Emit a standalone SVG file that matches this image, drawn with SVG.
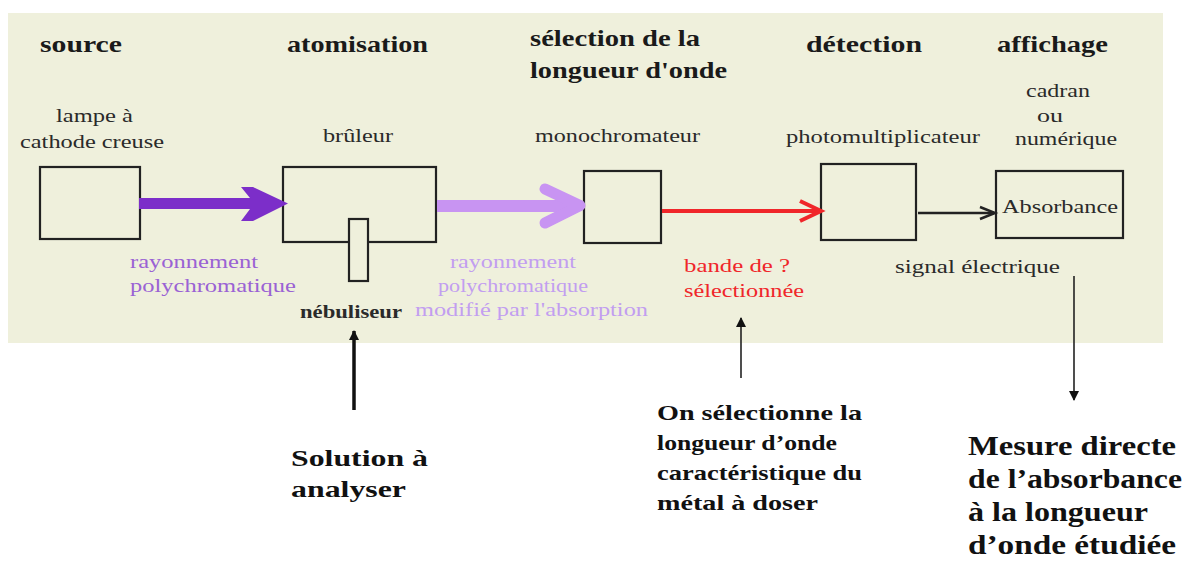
<svg xmlns="http://www.w3.org/2000/svg" width="1194" height="569" viewBox="0 0 1194 569">
<style>
text{font-family:"Liberation Serif","Times New Roman",Times,serif}
.h{font-weight:bold;font-size:24px;fill:#1a1a1a}
.t{font-size:19px;fill:#2a2a2a}
.b{font-weight:bold;fill:#111}
.box{fill:none;stroke:#222;stroke-width:2.2}
.p1{fill:#9a62d4}
.p2{fill:#c29ef0}
.rd{fill:#f0262a}
</style>
<defs>
<marker id="ah" viewBox="0 0 10 10" refX="9" refY="5" markerWidth="10" markerHeight="10" markerUnits="userSpaceOnUse" orient="auto"><path d="M0,0 L10,5 L0,10 Z" fill="#111"/></marker>
</defs>
<rect x="8" y="13" width="1155" height="330" fill="#eff0dc"/>

<g id="headings">
<text class="h" x="40" y="52" textLength="82" lengthAdjust="spacingAndGlyphs">source</text>
<text class="h" x="287" y="52" textLength="141" lengthAdjust="spacingAndGlyphs">atomisation</text>
<text class="h" x="530" y="46" textLength="170" lengthAdjust="spacingAndGlyphs">sélection de la</text>
<text class="h" x="530" y="78" textLength="197" lengthAdjust="spacingAndGlyphs">longueur d'onde</text>
<text class="h" x="806" y="52" textLength="116" lengthAdjust="spacingAndGlyphs">détection</text>
<text class="h" x="997" y="52" textLength="111" lengthAdjust="spacingAndGlyphs">affichage</text>
</g>

<g id="source">
<text class="t" x="56" y="122" textLength="77" lengthAdjust="spacingAndGlyphs">lampe à</text>
<text class="t" x="20" y="148" textLength="144" lengthAdjust="spacingAndGlyphs">cathode creuse</text>
<rect class="box" x="40" y="167" width="100" height="72"/>
</g>

<g id="bruleur">
<text class="t" x="323" y="142" textLength="70" lengthAdjust="spacingAndGlyphs">brûleur</text>
<rect class="box" x="283" y="167" width="153" height="75"/>
<rect x="349" y="219" width="19" height="62" fill="#eff0dc" stroke="#222" stroke-width="2.2"/>
<text class="t" x="300" y="318" textLength="102" lengthAdjust="spacingAndGlyphs" font-weight="bold">nébuliseur</text>
</g>

<g id="monochromateur">
<text class="t" x="535" y="142" textLength="165" lengthAdjust="spacingAndGlyphs">monochromateur</text>
<rect class="box" x="584" y="171" width="77" height="72"/>
</g>

<g id="detecteur">
<text class="t" x="786" y="143" textLength="194" lengthAdjust="spacingAndGlyphs">photomultiplicateur</text>
<rect class="box" x="821" y="164" width="95" height="76"/>
</g>

<g id="affichage">
<text class="t" x="1026" y="97" textLength="64" lengthAdjust="spacingAndGlyphs">cadran</text>
<text class="t" x="1037" y="122" textLength="26" lengthAdjust="spacingAndGlyphs">ou</text>
<text class="t" x="1015" y="145" textLength="102" lengthAdjust="spacingAndGlyphs">numérique</text>
<rect class="box" x="996" y="171" width="127" height="67"/>
<text class="t" x="1002" y="213" textLength="116" lengthAdjust="spacingAndGlyphs">Absorbance</text>
</g>

<g id="connectors">
<polygon points="139,198 250,198 241,187 253,187 288,203.5 253,221 241,221 250,209 139,209" fill="#7c2ec9"/>
<line x1="437" y1="206" x2="575" y2="206" stroke="#c894f2" stroke-width="12"/>
<polyline points="545,189 580,205.5 545,223" fill="none" stroke="#c894f2" stroke-width="11" stroke-linejoin="round" stroke-linecap="round"/>
<line x1="662" y1="211" x2="820" y2="211" stroke="#f0262a" stroke-width="4"/>
<polyline points="800,201 821,211 800,221" fill="none" stroke="#f0262a" stroke-width="4"/>
<line x1="918" y1="213" x2="994" y2="213" stroke="#222" stroke-width="2.5"/>
<polyline points="980,207 995,213 980,219" fill="none" stroke="#222" stroke-width="2.5"/>
<line x1="354" y1="410" x2="354" y2="331" stroke="#111" stroke-width="3.5" marker-end="url(#ah)"/>
<line x1="741" y1="378" x2="741" y2="318" stroke="#222" stroke-width="1.6" marker-end="url(#ah)"/>
<line x1="1074" y1="276" x2="1074" y2="400" stroke="#222" stroke-width="1.6" marker-end="url(#ah)"/>
</g>

<g id="labels">
<text class="t p1" x="130" y="268" textLength="128" lengthAdjust="spacingAndGlyphs">rayonnement</text>
<text class="t p1" x="130" y="292" textLength="166" lengthAdjust="spacingAndGlyphs">polychromatique</text>
<text class="t p2" x="450" y="268" textLength="126" lengthAdjust="spacingAndGlyphs">rayonnement</text>
<text class="t p2" x="438" y="292" textLength="150" lengthAdjust="spacingAndGlyphs">polychromatique</text>
<text class="t p2" x="415" y="316" textLength="233" lengthAdjust="spacingAndGlyphs">modifié par l'absorption</text>
<text class="t rd" x="684" y="272" textLength="106" lengthAdjust="spacingAndGlyphs">bande de ?</text>
<text class="t rd" x="684" y="297" textLength="120" lengthAdjust="spacingAndGlyphs">sélectionnée</text>
<text class="t" x="895" y="273" textLength="165" lengthAdjust="spacingAndGlyphs">signal électrique</text>
</g>

<g id="notes">
<text class="b" font-size="24" x="291" y="466" textLength="137" lengthAdjust="spacingAndGlyphs">Solution à</text>
<text class="b" font-size="24" x="291" y="497" textLength="115" lengthAdjust="spacingAndGlyphs">analyser</text>
<text class="b" font-size="21" x="657" y="420" textLength="205" lengthAdjust="spacingAndGlyphs">On sélectionne la</text>
<text class="b" font-size="21" x="657" y="450" textLength="180" lengthAdjust="spacingAndGlyphs">longueur d’onde</text>
<text class="b" font-size="21" x="657" y="480" textLength="205" lengthAdjust="spacingAndGlyphs">caractéristique du</text>
<text class="b" font-size="21" x="657" y="510" textLength="161" lengthAdjust="spacingAndGlyphs">métal à doser</text>
<text class="b" font-size="28" x="968" y="455" textLength="208" lengthAdjust="spacingAndGlyphs">Mesure directe</text>
<text class="b" font-size="28" x="968" y="488" textLength="214" lengthAdjust="spacingAndGlyphs">de l’absorbance</text>
<text class="b" font-size="28" x="968" y="521" textLength="180" lengthAdjust="spacingAndGlyphs">à la longueur</text>
<text class="b" font-size="28" x="968" y="554" textLength="208" lengthAdjust="spacingAndGlyphs">d’onde étudiée</text>
</g>
</svg>
